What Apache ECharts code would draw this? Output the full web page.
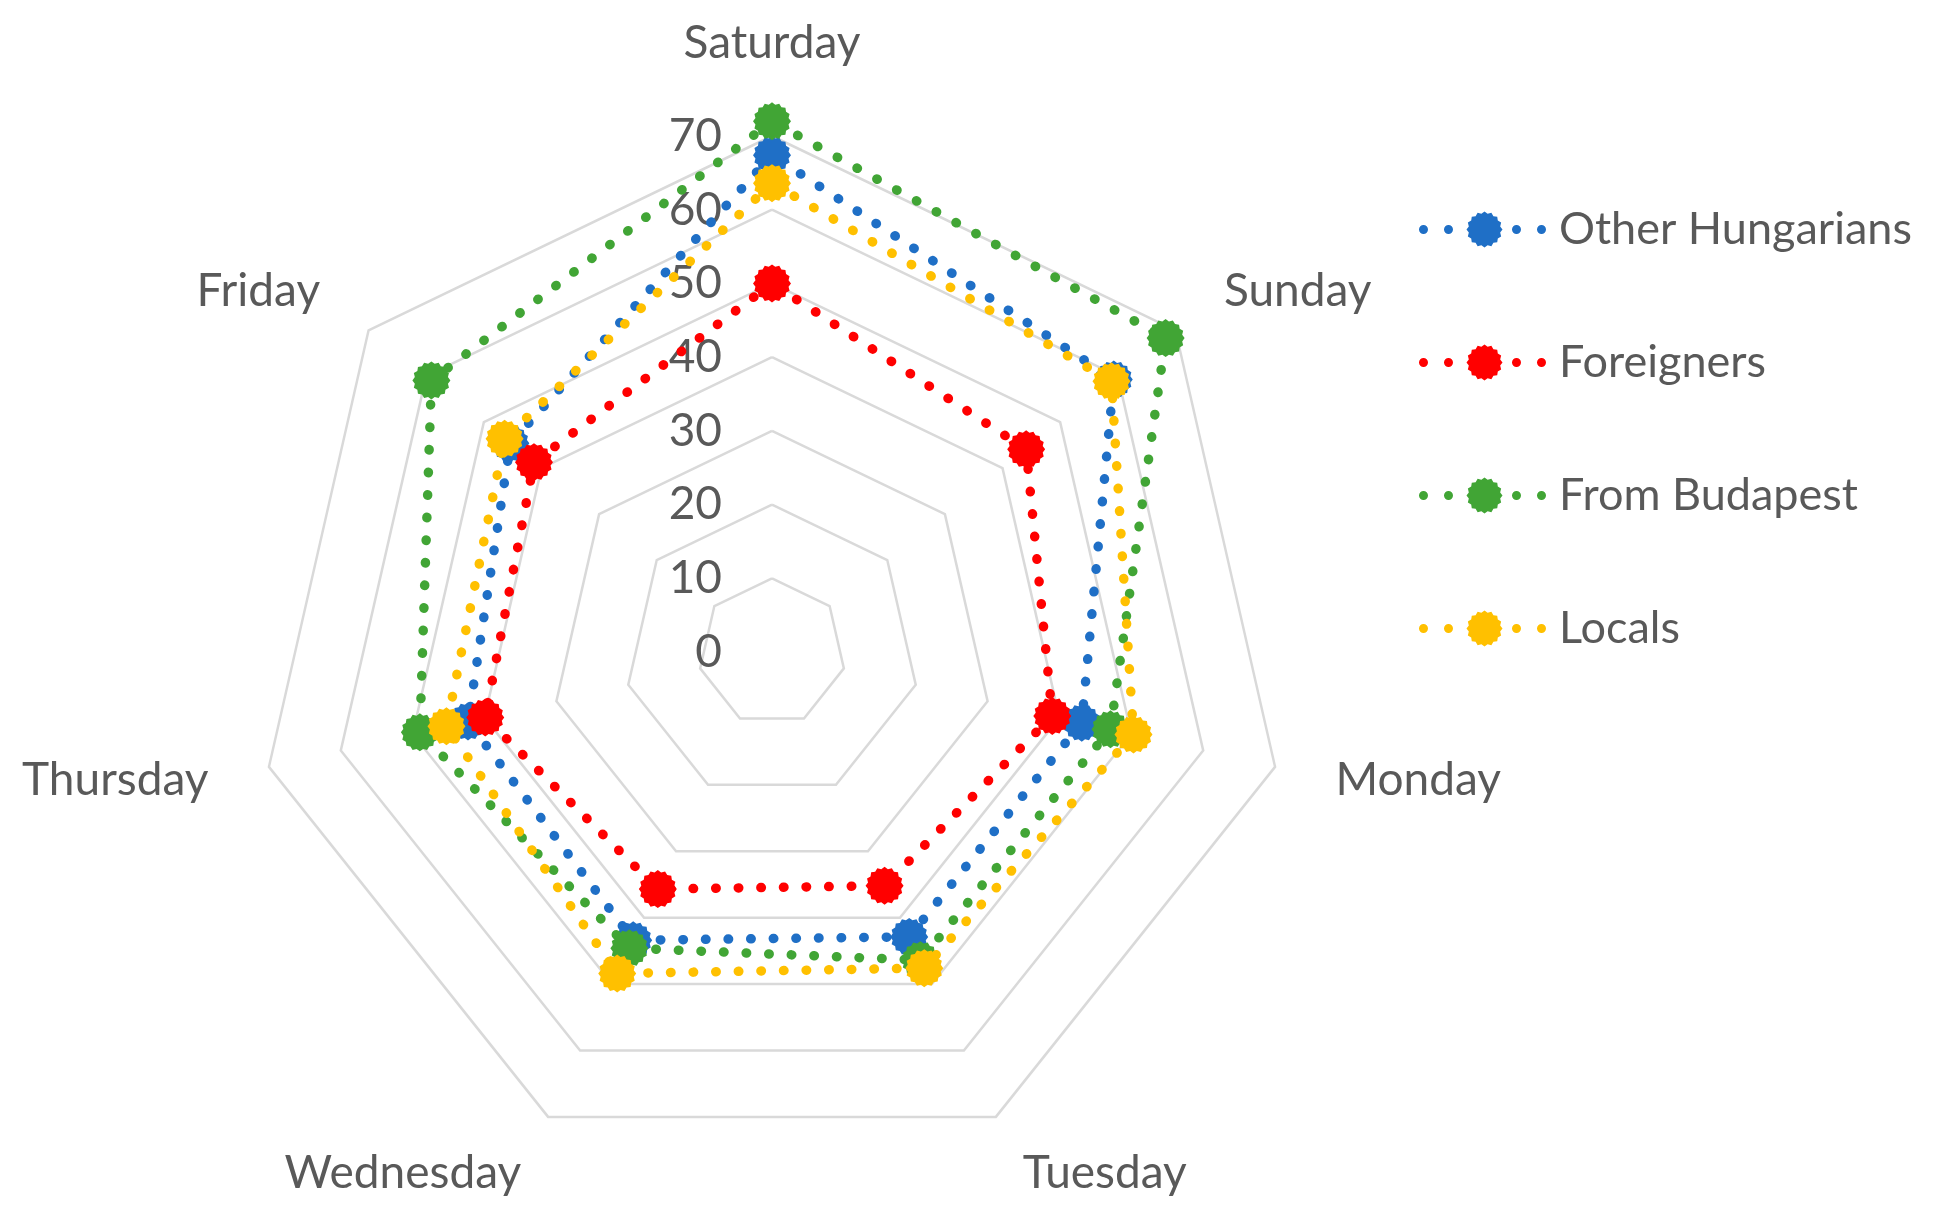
<!DOCTYPE html>
<html>
<head>
<meta charset="utf-8">
<script src="https://cdn.jsdelivr.net/npm/echarts@6/dist/echarts.min.js"></script>
<style>
  html, body { margin: 0; padding: 0; background: #fff; }
  #chart { width: 1938px; height: 1227px; }
</style>
</head>
<body>
<div id="chart"></div>
<script>
// days, clockwise from the top in the picture
const days = ["Saturday", "Sunday", "Monday", "Tuesday", "Wednesday", "Thursday", "Friday"];
const seriesNames = ["Other Hungarians", "Foreigners", "From Budapest", "Locals"];
const otherHungarians = [67.4, 59.3, 43.1, 42.9, 43.4, 42.3, 45.4];
const foreigners = [50.0, 44.1, 39.0, 35.2, 35.7, 39.9, 41.3];
const fromBudapest = [72.0, 68.3, 47.1, 46.4, 44.6, 49.0, 59.1];
const locals = [63.6, 58.9, 50.3, 47.6, 48.4, 45.3, 46.4];
const axisMin = 0;
const axisMax = 70;
const axisStep = 10;

const colors = ["#1f6fc6", "#ff0000", "#41a535", "#ffc000"];
const FONT = "Lato";
const TEXT_COLOR = "#595959";

// jagged round marker, like Excel's dotted-border circle
function gearPath(cx, cy, r, teeth, depth) {
  let d = "";
  for (let i = 0; i < teeth * 2; i++) {
    const a = Math.PI * i / teeth;
    const rr = i % 2 ? r - depth : r;
    d += (i ? "L" : "M") + (cx + rr * Math.cos(a)).toFixed(2) + " " + (cy + rr * Math.sin(a)).toFixed(2) + " ";
  }
  return d + "Z";
}

function dotPath(cx, cy, r) {
  return `M${cx - r} ${cy} a${r} ${r} 0 1 0 ${2 * r} 0 a${r} ${r} 0 1 0 ${-2 * r} 0 Z `;
}

const markerPath = "path://" + gearPath(18, 18, 18, 16, 2);
const legendPath = "path://" + dotPath(4.5, 18, 4.5) + dotPath(29.5, 18, 4.5) +
  gearPath(65.5, 18, 18, 16, 2) + " " + dotPath(97.5, 18, 4.5) + dotPath(122.5, 18, 4.5);

// echarts lays indicators out counter-clockwise, so reverse all but the first
function toCcw(arr) {
  return [arr[0]].concat(arr.slice(1).reverse());
}

const indicators = toCcw(days).map((d, i) => {
  const ind = { name: d, min: axisMin, max: axisMax };
  if (i === 0) {
    ind.nameGap = 70;
    ind.axisLabel = {
      show: true, margin: 50, color: TEXT_COLOR, fontSize: 46, fontFamily: FONT,
      showMinLabel: true, showMaxLabel: true
    };
  }
  return ind;
});

const allValues = [otherHungarians, foreigners, fromBudapest, locals];

const chart = echarts.init(document.getElementById("chart"), null, { renderer: "canvas" });
chart.setOption({
  animation: false,
  backgroundColor: "#ffffff",
  legend: {
    orient: "vertical",
    left: 1414,
    top: 202,
    itemWidth: 127,
    itemHeight: 38,
    itemGap: 88,
    icon: legendPath,
    itemStyle: { borderWidth: 0 },
    textStyle: { color: TEXT_COLOR, fontSize: 45, fontFamily: FONT, padding: [0, 0, 0, 8] },
    data: seriesNames
  },
  radar: {
    center: [772, 652],
    radius: 516,
    startAngle: 90,
    splitNumber: (axisMax - axisMin) / axisStep,
    shape: "polygon",
    indicator: indicators,
    axisName: { color: TEXT_COLOR, fontSize: 46, fontFamily: FONT },
    axisNameGap: 62,
    axisLine: { show: false },
    axisTick: { show: false },
    axisLabel: { show: false },
    splitArea: { show: false },
    splitLine: { lineStyle: { color: "#d9d9d9", width: 2.5 } }
  },
  series: seriesNames.map((name, i) => ({
    name: name,
    type: "radar",
    symbol: markerPath,
    symbolSize: 38,
    z: 2 + i,
    itemStyle: { color: colors[i], borderWidth: 0 },
    lineStyle: { color: colors[i], width: 9.5, type: [0.5, 22.1], cap: "round" },
    emphasis: { disabled: true },
    data: [{ name: name, value: toCcw(allValues[i]) }]
  }))
});
</script>
</body>
</html>
